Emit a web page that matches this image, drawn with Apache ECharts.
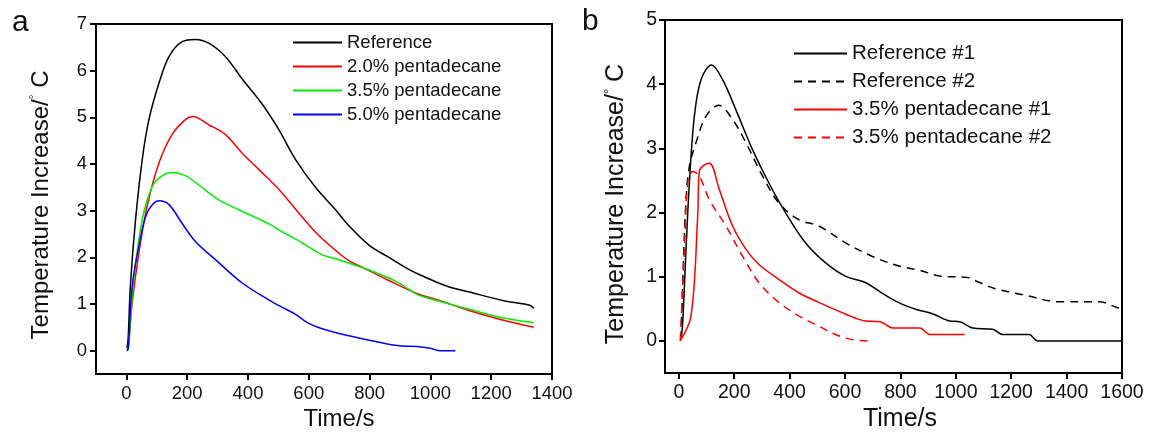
<!DOCTYPE html>
<html>
<head>
<meta charset="utf-8">
<script src="https://cdn.jsdelivr.net/npm/echarts@6/dist/echarts.min.js"></script>
<style>
html,body{margin:0;padding:0;background:#fff;}
#chart{width:1149px;height:436px;}
</style>
</head>
<body>
<div id="chart"></div>
<script>
// ---------- Panel a data ----------
const aSeriesNames = ['Reference', '2.0% pentadecane', '3.5% pentadecane', '5.0% pentadecane'];
const aRefT = [2,6,13,30,52,74,107,140,183,227,271,326,381,447,501,556,622,688,726,800,858,935,978,1055,1132,1241,1329,1340];
const aRefV = [0.05,0.3,1.38,2.8,4.09,4.95,5.73,6.30,6.62,6.67,6.59,6.30,5.82,5.28,4.74,4.10,3.50,3.02,2.72,2.25,2.02,1.72,1.59,1.38,1.25,1.07,0.97,0.91];
const a20T = [2,6,19,41,68,107,150,194,218,271,326,381,436,501,567,628,704,737,781,858,957,1022,1132,1241,1340];
const a20V = [0,0.05,1.02,2.09,3.09,4.02,4.63,4.95,5.02,4.84,4.63,4.23,3.88,3.46,2.95,2.50,2.06,1.91,1.77,1.52,1.22,1.09,0.85,0.65,0.50];
const a35T = [2,6,24,52,85,118,150,194,238,304,370,436,474,501,578,639,682,781,891,957,990,1132,1241,1340];
const a35V = [0,0.02,1.52,2.8,3.52,3.75,3.82,3.75,3.55,3.23,3.02,2.82,2.70,2.59,2.31,2.07,1.98,1.77,1.47,1.20,1.13,0.88,0.70,0.60];
const a50T = [2,6,19,41,68,107,140,183,227,293,381,468,518,556,595,639,693,803,891,957,1000,1033,1082];
const a50V = [0,0.05,1.38,2.23,2.95,3.21,3.13,2.73,2.34,1.95,1.45,1.09,0.91,0.78,0.60,0.48,0.38,0.22,0.11,0.09,0.05,0.0,0.0];
const aXTicks = [0,200,400,600,800,1000,1200,1400];
const aYTicks = [0,1,2,3,4,5,6,7];

// ---------- Panel b data ----------
const bSeriesNames = ['Reference #1', 'Reference #2', '3.5% pentadecane #1', '3.5% pentadecane #2'];
const bRef1T = [8,14,26,38,56,80,118,158,206,266,325,385,457,529,601,673,732,792,858,918,978,1014,1061,1133,1169,1265,1295,1600];
const bRef1V = [0.03,0.29,1.43,2.46,3.50,4.07,4.30,4.07,3.60,2.98,2.46,2.0,1.53,1.22,1.01,0.91,0.75,0.60,0.49,0.42,0.31,0.3,0.2,0.18,0.1,0.1,0,0];
const bRef2T = [8,14,26,38,62,98,144,194,242,302,361,433,505,601,697,792,870,942,1038,1085,1145,1253,1373,1516,1582,1600];
const bRef2V = [0.03,0.91,2.2,2.72,3.09,3.50,3.67,3.45,3.09,2.57,2.15,1.89,1.79,1.53,1.32,1.17,1.10,1.01,0.99,0.91,0.81,0.71,0.61,0.61,0.52,0.5];
const bP1T = [5,44,68,74,110,146,194,242,289,361,433,505,601,673,726,774,870,906,1032];
const bP1V = [0,0.39,1.94,2.65,2.77,2.36,1.79,1.43,1.19,0.96,0.75,0.60,0.42,0.31,0.30,0.2,0.2,0.1,0.1];
const bP2T = [5,20,32,50,74,110,170,230,289,361,433,505,565,625,684];
const bP2V = [0,1.43,2.46,2.64,2.57,2.20,1.79,1.32,0.91,0.60,0.39,0.23,0.10,0.02,0];
const bXTicks = [0,200,400,600,800,1000,1200,1400,1600];
const bYTicks = [0,1,2,3,4,5];

const FONT = 'Liberation Sans, Arial, sans-serif';
const zip = (t, v) => t.map((x, i) => [x, v[i]]);
const plain = v => String(v);

function axisCfg(gridIndex, min, max, ticks, fs, margin) {
  return {
    type: 'value', gridIndex, min, max,
    axisLine: { show: true, onZero: false, lineStyle: { color: '#000', width: 2 } },
    axisTick: { show: true, inside: false, length: 6, customValues: ticks, lineStyle: { color: '#000', width: 2 } },
    axisLabel: { show: true, customValues: ticks, margin, fontSize: fs, color: '#111', fontFamily: FONT, formatter: plain },
    splitLine: { show: false }
  };
}
function line(name, data, xi, color, dashed) {
  return {
    name, type: 'line', xAxisIndex: xi, yAxisIndex: xi, data,
    symbol: 'none', showSymbol: false, smooth: 0.35, animation: false,
    lineStyle: { color, width: 1.5, type: dashed ? [8, 6] : 'solid' },
    itemStyle: { color }
  };
}
const ylabelRich = fs => ({ d: { fontSize: Math.round(fs * 0.5), fontFamily: FONT, fill: '#111', padding: [0, 0, fs * 0.55, 0] } });

const chart = echarts.init(document.getElementById('chart'), null, { renderer: 'canvas' });
chart.setOption({
  animation: false,
  backgroundColor: '#fff',
  grid: [
    { left: 96, top: 24, width: 456, height: 350, show: true, borderColor: '#000', borderWidth: 2, containLabel: false },
    { left: 665, top: 20, width: 457, height: 353, show: true, borderColor: '#000', borderWidth: 2, containLabel: false }
  ],
  xAxis: [
    axisCfg(0, -100, 1400, aXTicks, 18.5, 10),
    axisCfg(1, -50, 1600, bXTicks, 19.5, 10)
  ],
  yAxis: [
    axisCfg(0, -0.5, 7, aYTicks, 18.5, 9),
    axisCfg(1, -0.5, 5, bYTicks, 19.5, 8)
  ],
  legend: [
    {
      data: aSeriesNames, orient: 'vertical', left: 292, top: 33, padding: 0,
      itemWidth: 49, itemHeight: 14, itemGap: 5,
      itemStyle: { color: 'rgba(0,0,0,0)', borderWidth: 0, opacity: 0 },
      textStyle: { fontSize: 18.5, fontFamily: FONT, color: '#111', lineHeight: 18 }
    },
    {
      data: bSeriesNames, orient: 'vertical', left: 793, top: 43, padding: 0,
      itemWidth: 53, itemHeight: 14, itemGap: 7,
      itemStyle: { color: 'rgba(0,0,0,0)', borderWidth: 0, opacity: 0 },
      textStyle: { fontSize: 20.5, fontFamily: FONT, color: '#111', lineHeight: 18 }
    }
  ],
  graphic: [
    { type: 'text', x: 12, y: 23, style: { text: 'a', font: '30px ' + FONT, fill: '#111', align: 'left', verticalAlign: 'middle' } },
    { type: 'text', x: 582, y: 22, style: { text: 'b', font: '30px ' + FONT, fill: '#111', align: 'left', verticalAlign: 'middle' } },
    { type: 'text', x: 41, y: 205, rotation: Math.PI / 2, style: { text: 'Temperature Increase/{d|°} C', rich: ylabelRich(24), font: '24px ' + FONT, fill: '#111', align: 'center', verticalAlign: 'middle' } },
    { type: 'text', x: 616, y: 204, rotation: Math.PI / 2, style: { text: 'Temperature Increase/{d|°} C', rich: ylabelRich(25), font: '25px ' + FONT, fill: '#111', align: 'center', verticalAlign: 'middle' } },
    { type: 'text', x: 339, y: 419, style: { text: 'Time/s', font: '24px ' + FONT, fill: '#111', align: 'center', verticalAlign: 'middle' } },
    { type: 'text', x: 900, y: 419, style: { text: 'Time/s', font: '25px ' + FONT, fill: '#111', align: 'center', verticalAlign: 'middle' } }
  ],
  series: [
    line(aSeriesNames[0], zip(aRefT, aRefV), 0, '#000000', false),
    line(aSeriesNames[1], zip(a20T, a20V), 0, '#ff0000', false),
    line(aSeriesNames[2], zip(a35T, a35V), 0, '#00ee00', false),
    line(aSeriesNames[3], zip(a50T, a50V), 0, '#0000ff', false),
    line(bSeriesNames[0], zip(bRef1T, bRef1V), 1, '#000000', false),
    line(bSeriesNames[1], zip(bRef2T, bRef2V), 1, '#000000', true),
    line(bSeriesNames[2], zip(bP1T, bP1V), 1, '#ff0000', false),
    line(bSeriesNames[3], zip(bP2T, bP2V), 1, '#ff0000', true)
  ]
});
</script>
</body>
</html>
